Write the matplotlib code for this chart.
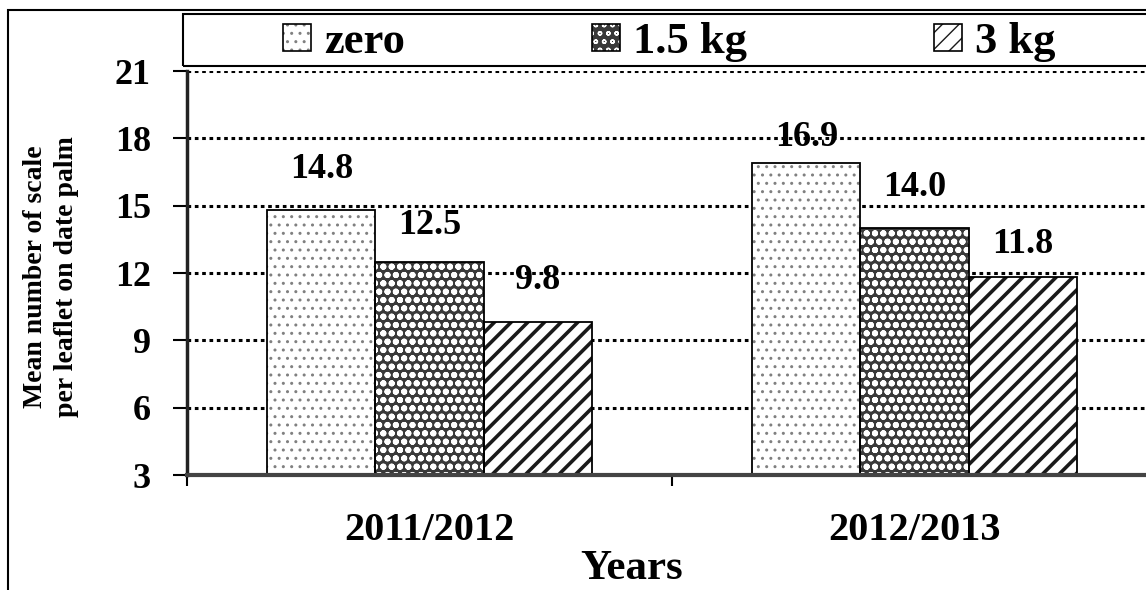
import matplotlib
matplotlib.use("Agg")
import matplotlib.pyplot as plt
import numpy as np
from matplotlib.patches import Patch, Rectangle

# ---- data ----
years = ["2011/2012", "2012/2013"]
doses = ["zero", "1.5 kg", "3 kg"]
zero_vals = [14.8, 16.9]
kg15_vals = [12.5, 14.0]
kg3_vals = [9.8, 11.8]
yticks = [3, 6, 9, 12, 15, 18, 21]

series = [zero_vals, kg15_vals, kg3_vals]

# look of each series (fill, hatch, hatch colour, hatch width)
styles = [
    dict(face="white", hatch="..", hcolor="#808080", hlw=1.0),
    dict(face="#3a3a3a", hatch="oo", hcolor="white", hlw=2.0),
    dict(face="white", hatch="//", hcolor="#1a1a1a", hlw=2.6),
]
# how far each value label sits above its bar (pixels)
label_lift = [[41, 26], [36, 41], [42, 33]]

plt.rcParams['font.family'] = ['Liberation Serif', 'DejaVu Serif']
plt.rcParams['font.weight'] = 'bold'

W, H = 1146, 590
fig = plt.figure(figsize=(W / 100, H / 100), dpi=100)
ax = fig.add_axes([187 / W, 115 / H, 970 / W, 404 / H])

x = np.arange(len(years))
bw = 0.223
handles = []
for i, (vals, st) in enumerate(zip(series, styles)):
    pos = x + (i - 1) * bw
    with plt.rc_context({'hatch.linewidth': st['hlw']}):
        fill = ax.bar(pos, vals, bw, color=st['face'], edgecolor=st['hcolor'],
                      hatch=st['hatch'], linewidth=0, zorder=2)
        proxy = Patch(facecolor=st['face'], edgecolor=st['hcolor'],
                      hatch=st['hatch'], linewidth=0)
    for p in list(fill) + [proxy]:
        if hasattr(p, 'set_hatch_linewidth'):
            p.set_hatch_linewidth(st['hlw'])
    ax.bar(pos, vals, bw, facecolor='none', edgecolor='black', linewidth=1.3, zorder=3)
    outline = Patch(facecolor='none', edgecolor='black', linewidth=1.2)
    handles.append((proxy, outline))
    for j, v in enumerate(vals):
        ax.annotate(f"{v:.1f}", (pos[j], v), xytext=(0, label_lift[i][j] * 0.72),
                    textcoords='offset points', ha='center', va='center',
                    fontsize=26, fontweight='bold', zorder=5)

ax.set_ylim(3, 21)
ax.set_yticks(yticks)
ax.set_xlim(-0.5, 1.5)

ax.set_axisbelow(True)
ax.yaxis.grid(True, color='black', linestyle=(0, (1.2, 1.2)), linewidth=2.2, zorder=1)

for s in ['top', 'right']:
    ax.spines[s].set_visible(False)
ax.spines['left'].set_linewidth(2.5)
ax.spines['left'].set_color('#222222')
ax.spines['bottom'].set_linewidth(3)
ax.spines['bottom'].set_color('#444444')
ax.spines['bottom'].set_zorder(4)

ax.tick_params(axis='y', direction='out', length=10, width=1.5, pad=16, labelsize=26)

ax.set_xticks([-0.5, 0.5, 1.5])
ax.set_xticklabels([])
ax.tick_params(axis='x', which='major', direction='out', length=8, width=1.5)
ax.set_xticks(x, minor=True)
ax.set_xticklabels(years, minor=True)
ax.tick_params(axis='x', which='minor', length=0, pad=27, labelsize=29)

ax.set_xlabel("Years", fontsize=31, fontweight='bold')
ax.xaxis.label.set_va('bottom')
ax.xaxis.set_label_coords((632 - 187) / 970, (475 - 588) / 404)

ax.set_ylabel("Mean number of scale\nper leaflet on date palm", fontsize=20,
              fontweight='bold', linespacing=1.35)
ax.yaxis.label.set_va('center')
ax.yaxis.set_label_coords((51 - 187) / 970, (475 - 277) / 404)

fig.legend(handles, doses, loc='center', bbox_to_anchor=(669 / W, 1 - 42 / H),
           ncol=3, frameon=False, fontsize=32, handlelength=0.63, handleheight=0.54,
           handletextpad=0.3, columnspacing=4.2)

# legend box and outer frame of the figure
fig.add_artist(Rectangle((183 / W, 1 - 66 / H), 1.0, 52 / H, transform=fig.transFigure,
                         facecolor='none', edgecolor='black', linewidth=1.5, clip_on=False))
fig.add_artist(Rectangle((8 / W, -0.1), 1.1, 1.1 - 10 / H, transform=fig.transFigure,
                         facecolor='none', edgecolor='black', linewidth=1.5, clip_on=False))

fig.savefig("out.png", dpi=100)
